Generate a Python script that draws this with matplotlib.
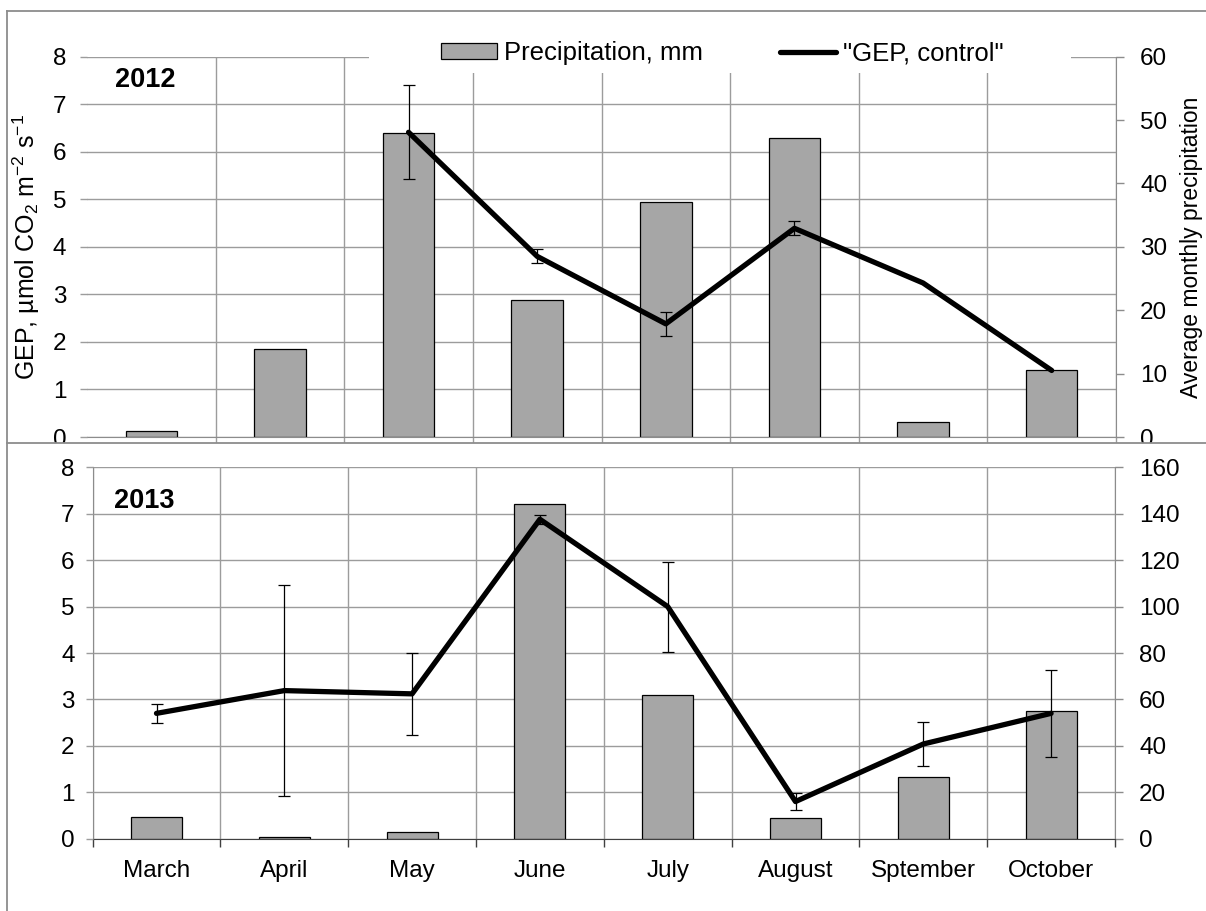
import numpy as np
import matplotlib
matplotlib.use("Agg")
import matplotlib.pyplot as plt
from matplotlib.ticker import MultipleLocator, FixedLocator, NullFormatter
from matplotlib.lines import Line2D
from matplotlib.patches import Rectangle

# ---------------- data ----------------
months = ["March", "April", "May", "June", "July", "August", "Sptember", "October"]

precip_2012 = [1.0, 13.9, 47.9, 21.6, 37.0, 47.2, 2.4, 10.5]
gep_2012 = [np.nan, np.nan, 6.41, 3.80, 2.38, 4.39, 3.24, 1.40]
gep_err_2012 = [np.nan, np.nan, 0.99, 0.15, 0.25, 0.15, np.nan, np.nan]

precip_2013 = [9.4, 0.6, 2.7, 144.3, 61.8, 8.8, 26.5, 55.2]
gep_2013 = [2.70, 3.19, 3.12, 6.88, 5.00, 0.80, 2.04, 2.70]
gep_err_2013 = [0.20, 2.28, 0.89, 0.10, 0.97, 0.18, 0.47, 0.93]

gep_ticks = [0, 1, 2, 3, 4, 5, 6, 7, 8]
precip_ticks_2012 = [0, 10, 20, 30, 40, 50, 60]
precip_ticks_2013 = [0, 20, 40, 60, 80, 100, 120, 140, 160]

bar_label = "Precipitation, mm"
line_label = '"GEP, control"'
left_label = "GEP, µmol CO$_2$ m$^{-2}$ s$^{-1}$"
right_label = "Average monthly precipitation"

# ---------------- style ----------------
plt.rcParams["font.family"] = ["Liberation Sans", "DejaVu Sans"]
plt.rcParams["mathtext.default"] = "regular"

W, H = 1206, 911
fig = plt.figure(figsize=(W / 100, H / 100), dpi=100)

GRID = "#9c9c9c"
SPINE = "#8c8c8c"
BAR = "#a6a6a6"
FS = 17.5


def px_rect(x0, y0, x1, y1):
    return [x0 / W, 1 - y1 / H, (x1 - x0) / W, (y1 - y0) / H]


def panel(rect, precip, gep, err, ptick, year, year_xy, bottom, z):
    axb = fig.add_axes(rect, zorder=z)
    axl = axb.twinx()
    axl.set_zorder(z + 0.1)
    axb.yaxis.tick_right()
    axb.yaxis.set_label_position("right")
    axl.yaxis.tick_left()
    axl.yaxis.set_label_position("left")

    x = np.arange(len(months))
    bars = axb.bar(x, precip, width=0.4, color=BAR, edgecolor="black",
                   linewidth=0.9, zorder=2, label=bar_label)
    axb.set_xlim(-0.5, len(months) - 0.5)
    pmax = ptick[-1]
    axb.set_ylim(0, pmax)
    axb.set_axisbelow(True)

    # right axis ticks
    axb.yaxis.set_major_locator(FixedLocator(ptick))
    axb.yaxis.set_minor_locator(FixedLocator(np.array(gep_ticks) * pmax / gep_ticks[-1]))
    axb.yaxis.remove_overlapping_locs = False
    axb.xaxis.remove_overlapping_locs = False
    axb.grid(which="minor", axis="y", color=GRID, lw=1.0)
    axb.tick_params(axis="y", which="major", direction="out", length=5.8,
                    width=1, color=SPINE, pad=11.5, labelsize=FS, right=True, left=False)
    axb.tick_params(axis="y", which="minor", length=0, right=False, left=False)

    # x ticks / vertical grid
    if bottom:
        bounds = np.arange(-0.5, len(months), 1.0)
    else:
        bounds = np.arange(0.5, len(months), 1.0)
    axb.xaxis.set_major_locator(FixedLocator(x))
    axb.xaxis.set_minor_locator(FixedLocator(bounds))
    axb.grid(which="minor", axis="x", color=GRID, lw=1.0)
    if bottom:
        axb.set_xticklabels(months)
        axb.tick_params(axis="x", which="major", length=0, pad=15.5, labelsize=FS)
        axb.tick_params(axis="x", which="minor", direction="out", length=5.8,
                        width=1, color="#404040")
    else:
        axb.xaxis.set_major_formatter(NullFormatter())
        axb.tick_params(axis="x", which="major", length=0)
        axb.tick_params(axis="x", which="minor", direction="out", length=4.5,
                        width=1, color=GRID)

    # spines
    for ax in (axb, axl):
        for s in ax.spines.values():
            s.set_visible(False)
    axb.spines["right"].set_visible(True)
    axb.spines["right"].set_color(SPINE)
    axb.spines["bottom"].set_visible(True)
    if bottom:
        axb.spines["bottom"].set_color("#404040")
        axb.spines["left"].set_visible(True)
        axb.spines["left"].set_color(SPINE)
    else:
        axb.spines["bottom"].set_color(SPINE)

    # left axis: GEP
    axl.set_ylim(gep_ticks[0], gep_ticks[-1])
    axl.yaxis.set_major_locator(FixedLocator(gep_ticks))
    axl.tick_params(axis="y", direction="out", length=5.0, width=1, color=GRID,
                    pad=10.0 if not bottom else 8.0, labelsize=FS, left=True, right=False)
    gep_a = np.array(gep, dtype=float)
    err_a = np.array(err, dtype=float)
    line, = axl.plot(x, gep_a, color="black", lw=3.8, solid_joinstyle="round",
                     solid_capstyle="round", zorder=3, label=line_label)
    m = ~np.isnan(err_a)
    axl.errorbar(x[m], gep_a[m], yerr=err_a[m], fmt="none", ecolor="black",
                 elinewidth=0.9, capsize=4, capthick=0.9, zorder=4)

    axl.text(year_xy[0], year_xy[1], year, transform=axl.transAxes, ha="left",
             va="center", fontsize=19.5, fontweight="bold")
    return axb, axl, bars, line


# top panel (2012)
axb1, axl1, bars1, line1 = panel(px_rect(87, 56.7, 1116, 437), precip_2012, gep_2012,
                                 gep_err_2012, precip_ticks_2012, "2012",
                                 (0.027, 0.939), False, 0)
axl1.set_ylabel(left_label, fontsize=18)
axl1.yaxis.set_label_coords(-0.0437, 0.5)
axb1.set_ylabel(right_label, fontsize=16.5)
axb1.yaxis.set_label_coords(1.0622, 0.5)

# white area behind legend (chart legend box)
axl1.add_patch(Rectangle((369 / W, 1 - 73 / H), (1071 - 369) / W, 36 / H,
                         transform=fig.transFigure, facecolor="white",
                         edgecolor="none", zorder=5, clip_on=False))
leg = axl1.legend([bars1, line1], [bar_label, line_label], loc="center",
                  bbox_to_anchor=(722 / W, 1 - 53 / H), bbox_transform=fig.transFigure,
                  ncol=2, frameon=False, fontsize=18.5, handlelength=2.2,
                  handleheight=0.55, handletextpad=0.25, columnspacing=3.0)
leg.set_zorder(6)

# white chart area of lower chart (covers the top one below the divider)
fig.add_artist(Rectangle((0, 0), 1, 1 - 443 / H, transform=fig.transFigure,
                         facecolor="white", edgecolor="none", zorder=0.5))

# bottom panel (2013)
axb2, axl2, bars2, line2 = panel(px_rect(92.6, 467.3, 1115, 838.7), precip_2013, gep_2013,
                                 gep_err_2013, precip_ticks_2013, "2013",
                                 (0.021, 0.910), True, 1)

# outer chart borders
bx = 7 / W
for xs, ys in [([bx, bx], [0, 1 - 10.7 / H]),
               ([bx, 1], [1 - 10.7 / H, 1 - 10.7 / H]),
               ([bx, 1], [1 - 443 / H, 1 - 443 / H])]:
    fig.add_artist(Line2D(xs, ys, transform=fig.transFigure, color=SPINE, lw=1.3, zorder=3))

fig.savefig("out.png", dpi=100, facecolor="white")
